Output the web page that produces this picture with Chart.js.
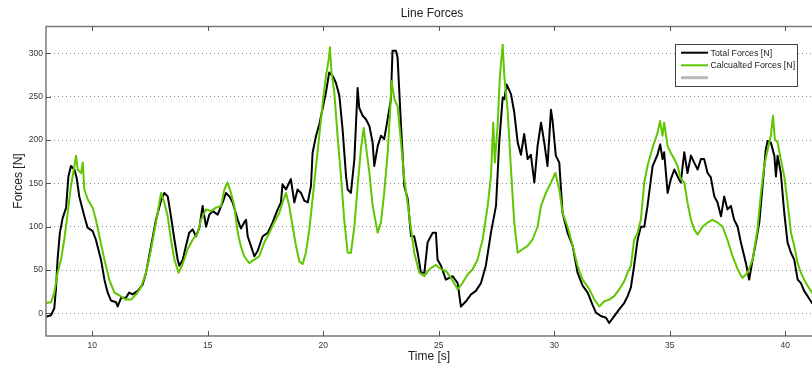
<!DOCTYPE html>
<html>
<head>
<meta charset="utf-8">
<script src="https://cdn.jsdelivr.net/npm/chart.js@4/dist/chart.umd.min.js"></script>
<style>
  html, body { margin: 0; padding: 0; background: #ffffff; }
  #wrap { width: 812px; height: 367px; position: relative; }
</style>
</head>
<body>
<div id="wrap"><canvas id="c" width="812" height="367"></canvas></div>
<script>
// Labels
const chartTitle = 'Line Forces';
const xTitle = 'Time [s]';
const yTitle = 'Forces [N]';
const seriesNames = ['Total Forces [N]', 'Calcualted Forces [N]', ''];

// Axis ticks
const xTicks = [10, 15, 20, 25, 30, 35, 40];
const yTicks = [0, 50, 100, 150, 200, 250, 300];

// Measured total line force
const totalTime = [
  8.0, 8.22, 8.36, 8.43, 8.5, 8.6, 8.72, 8.87, 8.97, 9.08, 9.23, 9.33, 9.44, 9.66, 9.8, 10.02, 10.16, 10.38, 10.53, 10.67,
  10.81, 11.03, 11.1, 11.25, 11.46, 11.6, 11.75, 11.97, 12.18, 12.33, 12.55, 12.76, 12.98, 13.12, 13.27, 13.41, 13.56, 13.7, 13.77, 13.92,
  14.06, 14.2, 14.35, 14.49, 14.64, 14.78, 14.93, 15.07, 15.22, 15.43, 15.65, 15.79, 15.94, 16.08, 16.3, 16.44,
  16.58, 16.66, 16.73, 16.87, 17.02, 17.16, 17.38, 17.6, 17.81, 18.03, 18.17, 18.24, 18.39, 18.53, 18.6, 18.75, 18.89, 19.04, 19.18, 19.33,
  19.47, 19.54, 19.69, 19.83, 19.98, 20.12, 20.26, 20.41, 20.55, 20.7, 20.84, 20.99, 21.06, 21.2, 21.35, 21.49, 21.56, 21.71, 21.85, 22.0,
  22.14, 22.21, 22.36, 22.5, 22.64, 22.79, 22.93, 23.0, 23.15, 23.22, 23.37, 23.51, 23.66, 23.8, 23.94, 24.09, 24.23, 24.38, 24.52, 24.74, 24.88,
  24.95, 25.1, 25.31, 25.6, 25.82, 25.96, 26.18, 26.4, 26.61, 26.83, 27.04, 27.26, 27.48, 27.62, 27.77, 27.84, 27.94, 28.13, 28.27, 28.42,
  28.56, 28.7, 28.85, 28.99, 29.14, 29.28, 29.43, 29.57, 29.71, 29.86, 29.93, 30.07, 30.22, 30.36, 30.58, 30.8, 31.01, 31.23, 31.45, 31.66,
  31.81, 32.02, 32.24, 32.38, 32.6, 32.82, 33.03, 33.18, 33.32,
  33.46, 33.61, 33.75, 33.9, 34.04, 34.26, 34.47, 34.59, 34.69, 34.76, 34.91, 35.05, 35.2, 35.34, 35.48, 35.63, 35.77, 35.92, 36.06, 36.21,
  36.35, 36.49, 36.64, 36.78, 36.93, 37.07, 37.22, 37.36, 37.5, 37.65, 37.79, 37.94, 38.08, 38.3, 38.44, 38.59, 38.73, 38.88, 39.02, 39.16,
  39.24, 39.38, 39.53, 39.6, 39.67, 39.81, 39.96, 40.1, 40.25, 40.39, 40.54, 40.68, 40.82, 40.97, 41.16
];
const totalForce = [
  -4, -2, 6, 28, 62, 93, 110, 122, 158, 170, 166, 156, 135, 112, 99, 95, 85, 62, 39, 24,
  15, 13, 8, 18, 18, 24, 22, 26, 33, 47, 78, 108, 130, 139, 135, 112, 85, 62, 55, 62,
  78, 93, 97, 89, 99, 124, 100, 114, 118, 114, 128, 139, 135, 128, 108, 98,
  105, 108, 89, 78, 66, 72, 89, 93, 105, 120, 128, 149, 143, 151, 155, 128, 143, 139, 130, 128,
  147, 185, 205, 218, 237, 255, 278, 274, 266, 251, 212, 158, 143, 139, 178, 260, 237, 228, 224, 216,
  197, 170, 193, 205, 201, 224, 247, 303, 303, 295, 216, 147, 132, 89, 89, 70, 47, 47, 82, 93, 93,
  62, 55, 39, 43, 35, 8, 14, 22, 26, 35, 55, 93, 124, 197, 249, 247, 264, 253, 232, 197,
  183, 207, 178, 183, 151, 193, 220, 197, 170, 235, 222, 182, 174, 116, 93, 78, 47, 32, 24, 10,
  1, -3, -5, -11, -3, 5, 12, 20, 30,
  55, 85, 100, 100, 124, 170, 183, 195, 178, 186, 139, 155, 166, 158, 151, 186, 162, 182, 174, 166,
  178, 178, 162, 157, 135, 128, 112, 135, 120, 124, 108, 100, 82, 58, 39, 62, 82, 105, 147, 189,
  199, 197, 182, 158, 182, 162, 116, 82, 70, 62, 39, 35, 26, 20, 12
];

// Calculated line force
const calcTime = [
  8.0, 8.22, 8.36, 8.5, 8.65, 8.79, 8.94, 9.08, 9.23, 9.3, 9.37, 9.52, 9.59, 9.66, 9.8, 10.02, 10.16, 10.31, 10.53, 10.74,
  10.96, 11.17, 11.46, 11.68, 11.9, 12.11, 12.33, 12.55, 12.76, 12.91, 12.98, 13.12, 13.27, 13.41, 13.56, 13.74, 13.92, 14.13, 14.35, 14.57,
  14.71, 14.93, 15.14, 15.36, 15.58, 15.72, 15.86, 16.01, 16.15, 16.3, 16.44,
  16.58, 16.8, 17.02, 17.23, 17.45, 17.67, 17.88, 18.1, 18.24, 18.39, 18.53, 18.68, 18.82, 18.97, 19.11, 19.25, 19.4, 19.54, 19.69, 19.83,
  19.98, 20.12, 20.24, 20.29, 20.36, 20.48, 20.62, 20.77, 20.91, 21.06, 21.2, 21.35, 21.49, 21.63, 21.75, 21.85, 22.0, 22.14, 22.36, 22.5,
  22.64, 22.79, 22.9, 22.96, 23.08, 23.22, 23.37, 23.51, 23.73, 23.94, 24.16, 24.38, 24.59, 24.88,
  25.1, 25.31, 25.53, 25.82, 26.03, 26.25, 26.47, 26.68, 26.9, 27.12, 27.26, 27.36, 27.43, 27.55, 27.65, 27.77, 27.84, 27.98, 28.13, 28.27,
  28.42, 28.63, 28.85, 29.06, 29.28, 29.43, 29.64, 29.86, 30.05, 30.22, 30.36, 30.58, 30.8, 31.01, 31.23, 31.52, 31.74, 31.95, 32.17, 32.38,
  32.6, 32.82, 33.03, 33.18, 33.32,
  33.46, 33.61, 33.75, 33.9, 34.04, 34.19, 34.33, 34.47, 34.58, 34.69, 34.76, 34.91, 35.05, 35.2, 35.34, 35.48, 35.63, 35.77, 35.92, 36.06,
  36.21, 36.42, 36.64, 36.85, 37.07, 37.29, 37.5, 37.72, 37.94, 38.15, 38.37, 38.59, 38.8, 38.95, 39.09, 39.24, 39.38, 39.47, 39.55, 39.67,
  39.81, 39.96, 40.1, 40.25, 40.39, 40.54, 40.68, 40.82, 40.97, 41.16
];
const calcForce = [
  12, 13, 24, 47, 62, 85, 116, 147, 170, 182, 166, 162, 174, 143, 132, 122, 108, 89, 62, 39,
  24, 21, 16, 16, 22, 30, 47, 74, 105, 128, 139, 128, 112, 85, 62, 47, 57, 74, 85, 93,
  108, 120, 118, 122, 124, 143, 151, 139, 124, 93, 77,
  66, 58, 62, 66, 82, 93, 105, 116, 128, 139, 124, 100, 78, 60, 57, 70, 97, 132, 170, 205,
  243, 274, 293, 307, 278, 255, 205, 158, 108, 70, 70, 100, 147, 189, 214, 193, 162, 124, 93, 105,
  139, 185, 235, 268, 247, 239, 197, 155, 112, 70, 47, 43, 51, 56,
  51, 49, 41, 28, 35, 45, 51, 62, 85, 124, 158, 220, 174, 216, 274, 310, 274, 235, 166, 105,
  70, 74, 78, 85, 100, 124, 139, 151, 162, 143, 116, 100, 78, 55, 39, 28, 16, 8, 14, 16,
  20, 28, 37, 47, 55,
  85, 93, 108, 151, 170, 185, 197, 208, 222, 205, 220, 193, 185, 178, 170, 155, 151, 128, 108, 97,
  91, 100, 105, 108, 105, 100, 85, 66, 51, 41, 47, 62, 97, 139, 170, 189, 205, 228, 201, 197,
  178, 158, 128, 93, 78, 58, 47, 39, 32, 24
];

const FONT = '"Liberation Sans", Arial, Helvetica, sans-serif';
const toPoints = (ts, vs) => ts.map((t, i) => ({ x: t, y: vs[i] }));

// Axis frame, inward tick marks, title and legend box
const framePlugin = {
  id: 'frame',
  afterDraw(chart) {
    const { ctx, chartArea: a, scales } = chart;
    const xs = scales.x, ys = scales.y;
    ctx.save();
    ctx.strokeStyle = '#7a7a7a';
    ctx.lineWidth = 1.5;
    ctx.beginPath();
    ctx.moveTo(a.right, a.top + 0.5); ctx.lineTo(a.left, a.top + 0.5);
    ctx.lineTo(a.left, a.bottom); ctx.lineTo(a.right, a.bottom);
    ctx.stroke();

    ctx.strokeStyle = '#555';
    ctx.lineWidth = 1;
    ctx.beginPath();
    xTicks.forEach(v => {
      const px = Math.round(xs.getPixelForValue(v)) + 0.5;
      ctx.moveTo(px, a.bottom); ctx.lineTo(px, a.bottom - 5);
      ctx.moveTo(px, a.top); ctx.lineTo(px, a.top + 5);
    });
    yTicks.forEach(v => {
      const py = Math.round(ys.getPixelForValue(v)) + 0.5;
      ctx.moveTo(a.left, py); ctx.lineTo(a.left + 5, py);
    });
    ctx.stroke();

    // title
    ctx.fillStyle = '#222';
    ctx.font = '12px ' + FONT;
    ctx.textAlign = 'center';
    ctx.textBaseline = 'middle';
    ctx.fillText(chartTitle, 432, 14);

    // legend
    const bx = 675.5, by = 44.5, bw = 122, bh = 42;
    ctx.fillStyle = '#ffffff';
    ctx.fillRect(bx, by, bw, bh);
    ctx.strokeStyle = '#444';
    ctx.lineWidth = 1;
    ctx.strokeRect(bx, by, bw, bh);
    const rows = [52.7, 65.3, 77.7];
    const ds = chart.data.datasets;
    ctx.font = '8.8px ' + FONT;
    ctx.textAlign = 'left';
    rows.forEach((ry, i) => {
      ctx.strokeStyle = ds[i].borderColor;
      ctx.lineWidth = i === 2 ? 3 : 2;
      ctx.beginPath();
      ctx.moveTo(681, ry); ctx.lineTo(708, ry);
      ctx.stroke();
      ctx.fillStyle = '#222';
      ctx.fillText(seriesNames[i], 710.5, ry + 0.5);
    });
    ctx.restore();
  }
};

new Chart(document.getElementById('c'), {
  type: 'line',
  data: {
    datasets: [
      { label: seriesNames[0], data: toPoints(totalTime, totalForce), borderColor: '#000000', borderWidth: 2, order: 2 },
      { label: seriesNames[1], data: toPoints(calcTime, calcForce), borderColor: 'rgb(96,198,0)', borderWidth: 2, order: 1 },
      { label: seriesNames[2], data: [], borderColor: '#b8b8b8', borderWidth: 3, order: 3 }
    ]
  },
  options: {
    responsive: false,
    animation: false,
    devicePixelRatio: 1,
    parsing: false,
    elements: {
      point: { radius: 0 },
      line: { tension: 0, borderJoinStyle: 'round', borderCapStyle: 'round' }
    },
    layout: { padding: { top: 26, left: 0, right: 0, bottom: 0 } },
    plugins: { legend: { display: false }, title: { display: false }, tooltip: { enabled: false } },
    scales: {
      x: {
        type: 'linear',
        min: 8,
        max: 41.16,
        afterBuildTicks: s => { s.ticks = xTicks.map(v => ({ value: v })); },
        afterFit: s => { s.height = 31; },
        grid: { display: false, drawTicks: false },
        border: { display: false },
        ticks: { font: { family: FONT, size: 8.5 }, color: '#333', padding: 5, maxRotation: 0 },
        title: { display: true, text: xTitle, font: { family: FONT, size: 12 }, color: '#222', padding: { top: 0, bottom: 3 } }
      },
      y: {
        type: 'linear',
        min: -26,
        max: 331.5,
        afterBuildTicks: s => { s.ticks = yTicks.map(v => ({ value: v })); },
        afterFit: s => { s.width = 46; },
        grid: { color: '#8a8a8a', lineWidth: 1, drawTicks: false },
        border: { display: false, dash: [1, 3] },
        ticks: { font: { family: FONT, size: 8.5 }, color: '#333', padding: 3 },
        title: { display: true, text: yTitle, font: { family: FONT, size: 12 }, color: '#222', padding: { top: 11, bottom: 0 } }
      }
    }
  },
  plugins: [framePlugin]
});
</script>
</body>
</html>
